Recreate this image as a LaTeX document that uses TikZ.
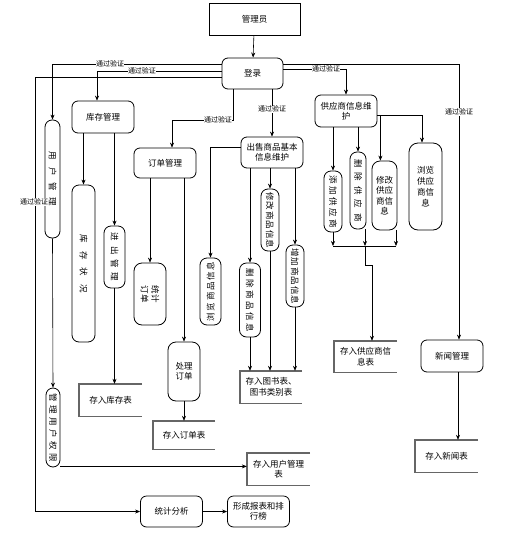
\documentclass[tikz,border=0pt]{standalone}
\usepackage{fontspec}
\usepackage{graphicx}
\newfontfamily\cjk{Noto Sans CJK SC}
\usetikzlibrary{arrows.meta}

% rotated, letter-spaced text for the narrow boxes
\newcommand\spreadtxt[2]{\def\spgap{\hspace{#1}}\spreadi#2\relax}
\def\spreadi#1#2\relax{#1\ifx\relax#2\relax\else\spgap\spreadi#2\relax\fi}
\newcommand\vlab[3][-90]{\rotatebox{#1}{\spreadtxt{#2}{#3}}}

\tikzset{
  >={Stealth[length=5pt,width=4pt]},
  every node/.style={font=\cjk\fontsize{8.5}{10.5}\selectfont, inner sep=1pt},
  proc/.style={draw, line width=0.8pt, rounded corners=6pt, minimum width=62pt, minimum height=31pt, align=center},
  pill/.style={draw, line width=0.8pt, rounded corners=7pt, inner sep=0pt, align=center},
  store/.style={minimum width=63pt, minimum height=31pt, align=center},
  storeline/.style={draw=black!60, line width=1.4pt},
  lbl/.style={font=\cjk\fontsize{7}{8}\selectfont, fill=white, inner sep=0.3pt},
  conn/.style={->, line width=0.6pt},
}

\begin{document}
\begin{tikzpicture}[x=1pt, y=-1pt]
\useasboundingbox (0,0) rectangle (509,542);
% top:
\node[draw, line width=0.8pt, minimum width=91pt, minimum height=32pt] (admin) at (254.5,19) {管理员};
\node[proc, minimum width=61pt] (login) at (252.5,73.5) {登录};
% modules:
\node[proc, minimum height=32pt] (kcgl) at (103,117) {库存管理};
\node[pill, minimum width=15pt, minimum height=118pt] (yhgl) at (52.5,179) {\vlab{7pt}{用户管理}};
\node[proc, minimum height=30pt] (ddgl) at (165,163) {订单管理};
\node[proc] (cssp) at (272,152.5) {出售商品基本\\信息维护};
\node[proc, minimum height=32pt] (gys) at (346,111) {供应商信息维\\护};
\node[proc, minimum height=32pt] (xwgl) at (452,356) {新闻管理};
% inventory:
\node[pill, minimum width=23pt, minimum height=157pt] (kczk) at (83.5,263.5) {\vlab{8pt}{库存状况}};
\node[pill, minimum width=21pt, minimum height=62pt] (jcgl) at (114.5,257) {\vlab{5pt}{进出管理}};
\node[store, minimum height=32pt] (kcb) at (110.5,400) {存入库存表};
% users:
\node[pill, minimum width=14pt, minimum height=79pt] (qx) at (53,427.5) {\vlab{3.5pt}{管理用户权限}};
\node[store, minimum height=32pt] (yhb) at (278.5,469) {存入用户管理\\表};
% orders:
\node[pill, rounded corners=8pt, minimum width=32pt, minimum height=62pt] (ddtj) at (150,294) {\rotatebox{-90}{\shortstack{统计\\订单}}};
\node[pill, rounded corners=8pt, minimum width=32pt, minimum height=59pt] (cldd) at (184,371.5) {处理\\订单};
\node[store, minimum width=62pt, minimum height=28pt] (ddb) at (184,435) {存入订单表};
% goods:
\node[pill, minimum width=21pt, minimum height=67pt] (llsp) at (210.5,291.5) {\vlab[90]{1.8pt}{浏览商品信息}};
\node[pill, minimum width=21pt, minimum height=74pt] (scsp) at (250,300) {\vlab{2.5pt}{删除商品信息}};
\node[pill, minimum width=18pt, minimum height=62pt] (xgsp) at (270,220) {\vlab{1pt}{修改商品信息}};
\node[pill, minimum width=18pt, minimum height=62pt] (zjsp) at (295,276) {\vlab{1pt}{增加商品信息}};
\node[store, minimum width=62pt, minimum height=32pt] (tsb) at (271,387) {存入图书表、\\图书类别表};
% suppliers:
\node[pill, minimum width=18pt, minimum height=61pt] (tjgys) at (333,201.5) {\vlab{2.4pt}{添加供应商}};
\node[pill, minimum width=16pt, minimum height=77pt] (scgys) at (358,190.5) {\vlab{5pt}{删除供应商}};
\node[pill, rounded corners=8pt, minimum width=25pt, minimum height=69pt] (xggys) at (384.5,195.5) {修改\\供应\\商信\\息};
\node[pill, rounded corners=9pt, minimum width=33pt, minimum height=87pt, font=\cjk\fontsize{8.5}{11}\selectfont] (llgys) at (425.5,186.5) {浏览\\供应\\商信\\息};
\node[store, minimum height=31pt] (gysb) at (365.5,356.5) {存入供应商信\\息表};
% news:
\node[store, minimum height=32pt] (xwb) at (446.5,456) {存入新闻表};
% statistics:
\node[proc] (tjfx) at (171.5,511.5) {统计分析};
\node[proc] (xcbb) at (258.5,511.5) {形成报表和排\\行榜};

% data stores, open on the right:
\foreach \s in {kcb,yhb,ddb,tsb,gysb,xwb}
  \draw[storeline] (\s.north east) -- (\s.north west) -- (\s.south west) -- (\s.south east);

% from login:
\draw[conn] (admin) -- (login);
\draw[conn] (login.west |- 0,64) -| (yhgl.north);
\node[lbl] (v1) at (110,64) {通过验证};
\draw[conn] (login.west |- 0,71) -| ([xshift=-6pt]kcgl.north);
\node[lbl] (v2) at (142,71) {通过验证};
\draw[conn] (login.west |- 0,77) -| ([xshift=-105pt]tjfx.west) -- (tjfx.west);
\node[lbl] (v3) at (34,202) {通过验证};
\draw[conn] ([xshift=-19.5pt]login.south) |- (172,120) -- ([xshift=7pt]ddgl.north);
\node[lbl] (v4) at (218,120) {通过验证};
\draw[conn] (login.south -| cssp.north) -- node[lbl, pos=0.42] (v5) {通过验证} (cssp.north);
\draw[conn] (login.east |- 0,69) -| (gys.north);
\node[lbl] (v6) at (326,69) {通过验证};
\draw[conn] (login.east |- 0,64) -| ([xshift=7pt]xwgl.north);
\node[lbl] (v7) at (459,112) {通过验证};

% inventory:
\draw[conn] (kcgl.south -| kczk.north) -- (kczk.north);
\draw[conn] (kcgl.south -| jcgl.north) -- (jcgl.north);
\draw[conn] (jcgl.south) -- (jcgl.south |- kcb.north);
% users:
\draw[conn] (yhgl.south) -- (qx.north);
\draw[conn] ([yshift=1pt]qx.south east) -- ([yshift=1pt]qx.south east -| yhb.west);
% orders:
\draw[conn] (ddgl.south -| ddtj.north) -- (ddtj.north);
\draw[conn] (ddgl.south -| cldd.north) -- (cldd.north);
\draw[conn] (cldd.south) -- (ddb.north);
% goods:
\draw[conn] (cssp.west |- 0,147) -| (llsp.north);
\draw[conn] (cssp.south -| scsp.north) -- (scsp.north);
\draw[conn] (cssp.south -| xgsp.north) -- (xgsp.north);
\draw[conn] (cssp.south -| zjsp.north) -- (zjsp.north);
\draw[conn] (scsp.south) -- (scsp.south |- tsb.north);
\draw[conn] (xgsp.south) -- (xgsp.south |- tsb.north);
\draw[conn] (zjsp.south) -- (zjsp.south |- tsb.north);
% suppliers:
\draw[conn] (gys.south -| tjgys.north) -- (tjgys.north);
\draw[conn] (gys.south -| scgys.north) -- (scgys.north);
\coordinate (gj) at ([xshift=3pt,yshift=-4pt]gys.east);
\draw[conn] ([yshift=-4pt]gys.east) -| ([xshift=-3.5pt]llgys.north);
\draw[conn] (gj) -- (gj |- xggys.north);
\coordinate (m1) at (333,246);
\coordinate (m2) at (365,246);
\coordinate (m3) at (396,246);
\draw[conn] (tjgys.south) -- (tjgys.south |- m1);
\draw[conn] (scgys.south -| m2) -- (m2);
\draw[conn] (xggys.south -| m3) -- (m3);
\draw[line width=0.6pt] (m1) -- (m3);
\draw[conn] (m2) -- ++(0,19) -| ([xshift=6.5pt]gysb.north);
% news and statistics:
\draw[conn] ([xshift=6pt]xwgl.south) -- ([xshift=6pt]xwgl.south |- xwb.north);
\draw[conn] (tjfx) -- (xcbb);
\end{tikzpicture}
\end{document}
